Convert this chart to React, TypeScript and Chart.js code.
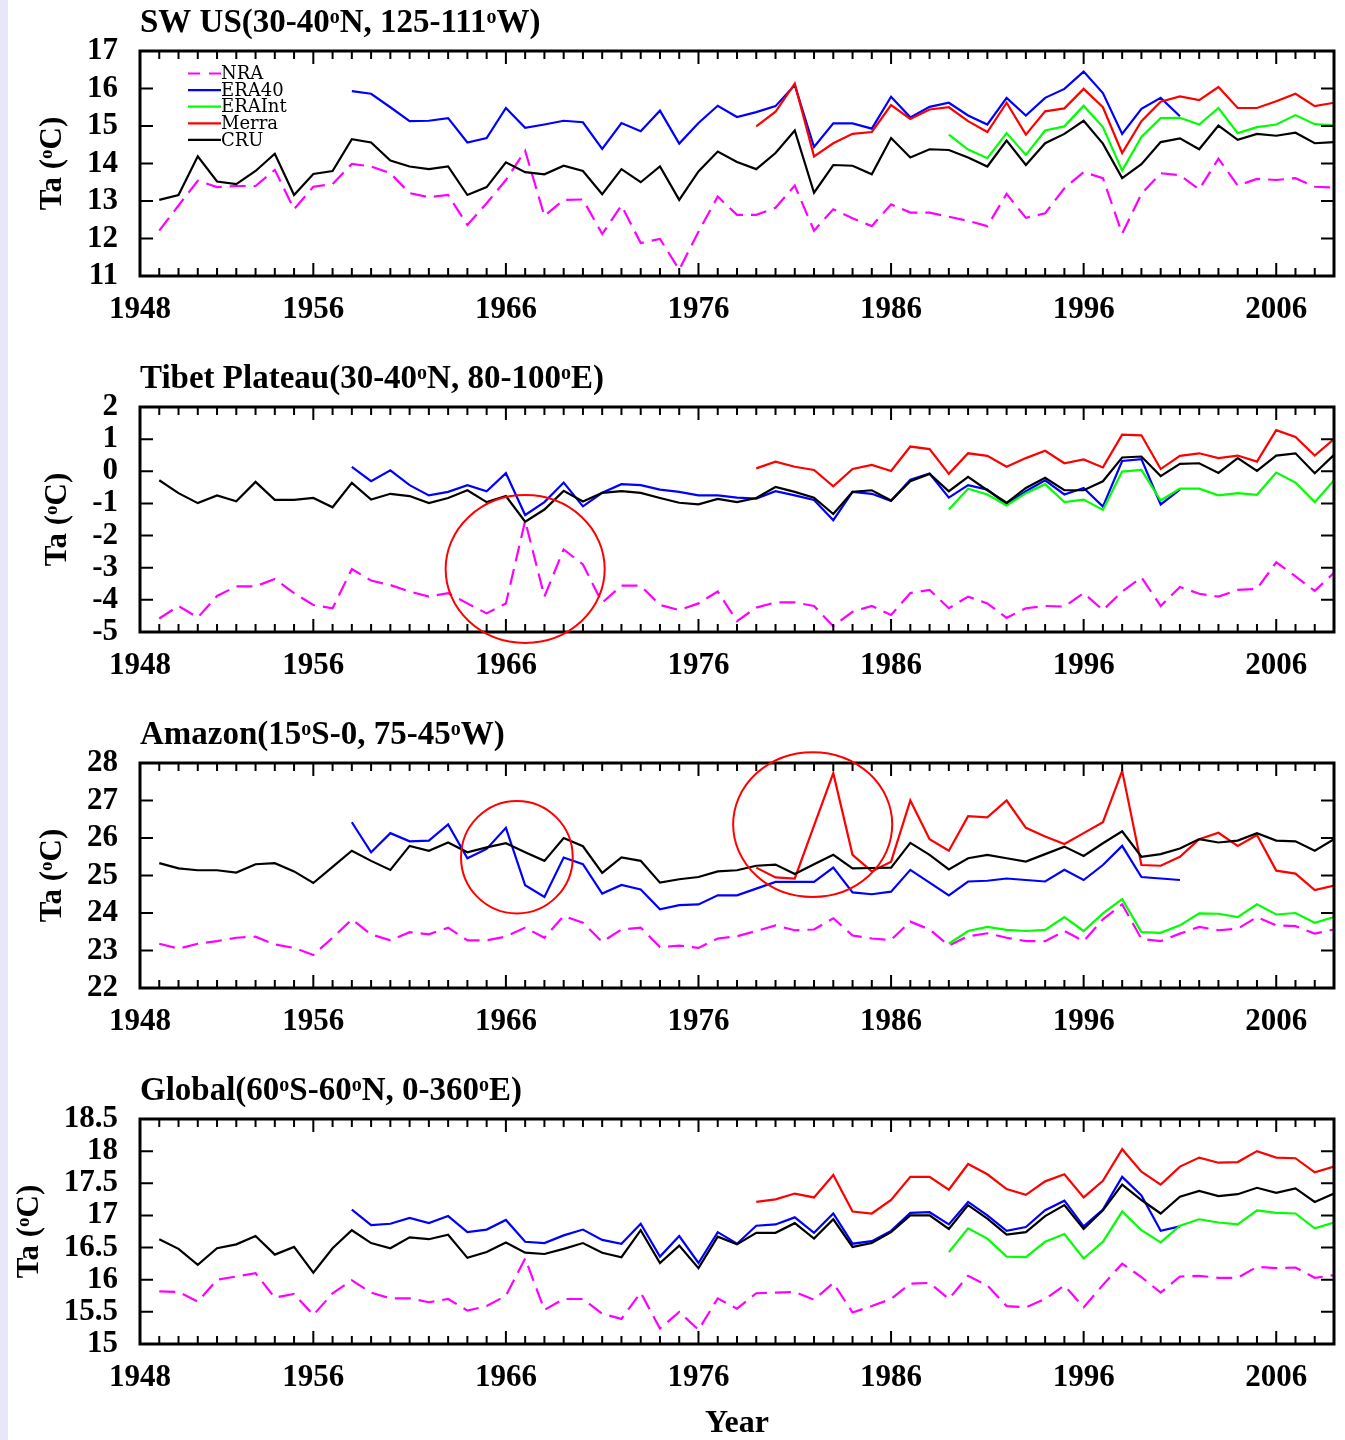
import React, { useEffect, useRef } from "react";
import { Chart, registerables } from "chart.js";

Chart.register(...registerables);

// ---------------- DATA ----------------
const years = [
  1948, 1949, 1950, 1951, 1952, 1953, 1954, 1955, 1956, 1957,
  1958, 1959, 1960, 1961, 1962, 1963, 1964, 1965, 1966, 1967,
  1968, 1969, 1970, 1971, 1972, 1973, 1974, 1975, 1976, 1977,
  1978, 1979, 1980, 1981, 1982, 1983, 1984, 1985, 1986, 1987,
  1988, 1989, 1990, 1991, 1992, 1993, 1994, 1995, 1996, 1997,
  1998, 1999, 2000, 2001, 2002, 2003, 2004, 2005, 2006, 2007,
  2008, 2009,
];

const xTickValues = [1947, 1956, 1966, 1976, 1986, 1996, 2006];
const xTickLabels = ["1948", "1956", "1966", "1976", "1986", "1996", "2006"];

const seriesNames = ["NRA", "ERA40", "ERAInt", "Merra", "CRU"];
const seriesStartYears = [1948, 1958, 1989, 1979, 1948];

// SW US
const swusNRA = [
  12.21, 12.88, 13.54, 13.37, 13.40, 13.40, 13.83, 12.78, 13.38, 13.45,
  13.99, 13.92, 13.74, 13.21, 13.10, 13.16, 12.36, 12.94, 13.56, 14.34,
  12.60, 13.03, 13.04, 12.12, 12.88, 11.88, 11.99, 11.17, 12.18, 13.12,
  12.63, 12.63, 12.82, 13.41, 12.21, 12.78, 12.54, 12.33, 12.91, 12.69,
  12.69, 12.58, 12.47, 12.33, 13.19, 12.55, 12.67, 13.34, 13.77, 13.61,
  12.13, 13.19, 13.74, 13.69, 13.31, 14.13, 13.41, 13.59, 13.56, 13.61,
  13.38, 13.36,
];
const swusERA40 = [
  15.93, 15.86, 15.50, 15.13, 15.14, 15.21, 14.56, 14.68, 15.48, 14.95,
  15.04, 15.14, 15.10, 14.39, 15.08, 14.86, 15.41, 14.53, 15.08, 15.54,
  15.24, 15.37, 15.53, 16.09, 14.44, 15.07, 15.07, 14.93, 15.78, 15.23,
  15.51, 15.62, 15.28, 15.04, 15.75, 15.28, 15.75, 15.99, 16.45, 15.88,
  14.79, 15.46, 15.75, 15.26,
];
const swusERAInt = [
  14.77, 14.37, 14.14, 14.81, 14.23, 14.88, 14.99, 15.54, 14.97, 13.81,
  14.71, 15.21, 15.22, 15.04, 15.48, 14.81, 14.97, 15.04, 15.29, 15.05,
  15.02,
];
const swusMerra = [
  14.99, 15.38, 16.13, 14.19, 14.54, 14.79, 14.84, 15.56, 15.19, 15.44,
  15.50, 15.13, 14.84, 15.62, 14.77, 15.39, 15.47, 15.99, 15.50, 14.28,
  15.13, 15.65, 15.79, 15.69, 16.04, 15.48, 15.48, 15.66, 15.86, 15.53,
  15.62,
];
const swusCRU = [
  13.03, 13.16, 14.19, 13.52, 13.45, 13.80, 14.26, 13.16, 13.72, 13.80,
  14.65, 14.56, 14.08, 13.92, 13.85, 13.92, 13.16, 13.37, 14.03, 13.77,
  13.71, 13.94, 13.80, 13.18, 13.85, 13.50, 13.92, 13.03, 13.79, 14.32,
  14.04, 13.85, 14.28, 14.88, 13.22, 13.96, 13.94, 13.71, 14.68, 14.16,
  14.38, 14.36, 14.16, 13.92, 14.61, 13.96, 14.54, 14.79, 15.14, 14.53,
  13.61, 13.98, 14.57, 14.67, 14.38, 15.01, 14.63, 14.79, 14.74, 14.82,
  14.54, 14.57,
];

// Tibet Plateau
const tibetNRA = [
  -4.58, -4.19, -4.55, -3.88, -3.58, -3.58, -3.35, -3.79, -4.16, -4.26,
  -3.04, -3.40, -3.54, -3.74, -3.90, -3.79, -4.11, -4.42, -4.11, -1.54,
  -3.90, -2.43, -2.90, -4.09, -3.56, -3.56, -4.16, -4.32, -4.11, -3.74,
  -4.66, -4.24, -4.08, -4.08, -4.19, -4.82, -4.37, -4.19, -4.47, -3.79,
  -3.69, -4.26, -3.90, -4.11, -4.56, -4.26, -4.19, -4.21, -3.79, -4.32,
  -3.74, -3.30, -4.19, -3.60, -3.81, -3.90, -3.69, -3.66, -2.83, -3.27,
  -3.72, -3.16,
];
const tibetERA40 = [
  0.14, -0.31, 0.03, -0.43, -0.75, -0.64, -0.43, -0.62, -0.06, -1.36,
  -0.96, -0.35, -1.09, -0.67, -0.40, -0.43, -0.57, -0.64, -0.75, -0.75,
  -0.82, -0.85, -0.62, -0.75, -0.89, -1.52, -0.64, -0.70, -0.92, -0.26,
  -0.07, -0.82, -0.43, -0.57, -1.03, -0.62, -0.28, -0.72, -0.52, -1.10,
  0.32, 0.38, -1.03, -0.57,
];
const tibetERAInt = [
  -1.19, -0.54, -0.72, -1.06, -0.68, -0.40, -0.96, -0.88, -1.20, -0.01,
  0.04, -0.91, -0.54, -0.54, -0.75, -0.68, -0.73, -0.04, -0.35, -0.96,
  -0.28,
];
const tibetMerra = [
  0.09, 0.30, 0.14, 0.04, -0.47, 0.07, 0.20, 0.01, 0.77, 0.69,
  -0.08, 0.56, 0.48, 0.14, 0.41, 0.64, 0.25, 0.37, 0.12, 1.14,
  1.12, 0.07, 0.48, 0.56, 0.41, 0.49, 0.30, 1.28, 1.07, 0.49,
  1.00,
];
const tibetCRU = [
  -0.28, -0.68, -0.99, -0.75, -0.93, -0.33, -0.89, -0.89, -0.83, -1.12,
  -0.36, -0.88, -0.70, -0.77, -0.99, -0.83, -0.59, -0.96, -0.77, -1.57,
  -1.19, -0.61, -0.94, -0.67, -0.62, -0.67, -0.83, -0.98, -1.03, -0.86,
  -0.96, -0.83, -0.49, -0.64, -0.82, -1.33, -0.64, -0.59, -0.91, -0.31,
  -0.08, -0.62, -0.17, -0.59, -0.98, -0.52, -0.20, -0.59, -0.59, -0.31,
  0.43, 0.46, -0.15, 0.23, 0.25, -0.05, 0.41, 0.01, 0.49, 0.56,
  -0.06, 0.51,
];

// Amazon
const amazonNRA = [
  23.18, 23.05, 23.18, 23.25, 23.34, 23.37, 23.16, 23.07, 22.88, 23.34,
  23.83, 23.43, 23.27, 23.49, 23.43, 23.61, 23.27, 23.27, 23.37, 23.61,
  23.34, 23.92, 23.74, 23.23, 23.56, 23.61, 23.09, 23.13, 23.07, 23.32,
  23.38, 23.52, 23.67, 23.54, 23.56, 23.86, 23.40, 23.32, 23.28, 23.77,
  23.56, 23.13, 23.38, 23.46, 23.34, 23.25, 23.25, 23.52, 23.25, 23.83,
  24.23, 23.31, 23.25, 23.45, 23.63, 23.54, 23.58, 23.89, 23.67, 23.65,
  23.45, 23.56,
];
const amazonERA40 = [
  26.42, 25.62, 26.13, 25.91, 25.93, 26.36, 25.46, 25.71, 26.27, 24.74,
  24.43, 25.48, 25.30, 24.52, 24.75, 24.63, 24.10, 24.21, 24.23, 24.47,
  24.47, 24.65, 24.83, 24.83, 24.83, 25.21, 24.55, 24.50, 24.57, 25.15,
  24.81, 24.47, 24.84, 24.86, 24.92, 24.88, 24.84, 25.15, 24.88, 25.28,
  25.79, 24.96, 24.92, 24.88,
];
const amazonERAInt = [
  23.18, 23.52, 23.63, 23.55, 23.52, 23.55, 23.89, 23.52, 23.99, 24.37,
  23.49, 23.47, 23.67, 23.99, 23.98, 23.89, 24.23, 23.96, 24.00, 23.74,
  23.89,
];
const amazonMerra = [
  25.21, 24.95, 24.92, 26.33, 27.73, 25.55, 25.11, 25.37, 27.00, 25.97,
  25.66, 26.58, 26.55, 27.00, 26.27, 26.04, 25.84, 26.13, 26.42, 27.79,
  25.28, 25.26, 25.50, 25.97, 26.14, 25.79, 26.08, 25.13, 25.05, 24.61,
  24.73,
];
const amazonCRU = [
  25.33, 25.19, 25.14, 25.14, 25.08, 25.30, 25.33, 25.11, 24.80, 25.23,
  25.66, 25.39, 25.15, 25.79, 25.66, 25.88, 25.62, 25.75, 25.86, 25.62,
  25.39, 26.00, 25.78, 25.07, 25.48, 25.39, 24.81, 24.90, 24.96, 25.11,
  25.14, 25.26, 25.29, 25.04, 25.30, 25.55, 25.19, 25.20, 25.21, 25.87,
  25.55, 25.16, 25.46, 25.55, 25.46, 25.37, 25.57, 25.77, 25.52, 25.86,
  26.18, 25.50, 25.57, 25.72, 25.97, 25.88, 25.93, 26.13, 25.93, 25.91,
  25.66, 25.97,
];

// Global
const globalNRA = [
  15.82, 15.81, 15.66, 16.00, 16.05, 16.10, 15.72, 15.78, 15.45, 15.79,
  15.99, 15.80, 15.71, 15.71, 15.65, 15.70, 15.52, 15.59, 15.75, 16.33,
  15.53, 15.70, 15.70, 15.47, 15.39, 15.80, 15.24, 15.50, 15.22, 15.71,
  15.55, 15.79, 15.80, 15.81, 15.69, 15.95, 15.49, 15.59, 15.70, 15.94,
  15.95, 15.70, 16.06, 15.91, 15.59, 15.57, 15.70, 15.91, 15.57, 15.92,
  16.25, 16.04, 15.80, 16.05, 16.06, 16.03, 16.03, 16.20, 16.18, 16.19,
  16.03, 16.07,
];
const globalERA40 = [
  17.09, 16.85, 16.87, 16.96, 16.88, 16.99, 16.74, 16.78, 16.93, 16.59,
  16.57, 16.69, 16.78, 16.62, 16.56, 16.87, 16.36, 16.68, 16.26, 16.74,
  16.56, 16.84, 16.86, 16.97, 16.73, 17.03, 16.56, 16.60, 16.76, 17.04,
  17.05, 16.86, 17.21, 17.00, 16.76, 16.82, 17.08, 17.23, 16.83, 17.09,
  17.60, 17.31, 16.76, 16.83,
];
const globalERAInt = [
  16.43, 16.80, 16.64, 16.36, 16.35, 16.59, 16.71, 16.33, 16.59, 17.06,
  16.77, 16.58, 16.84, 16.94, 16.89, 16.86, 17.08, 17.04, 17.03, 16.80,
  16.89,
];
const globalMerra = [
  17.21, 17.25, 17.34, 17.28, 17.63, 17.06, 17.03, 17.24, 17.60, 17.60,
  17.40, 17.80, 17.64, 17.41, 17.32, 17.53, 17.64, 17.28, 17.54, 18.03,
  17.68, 17.48, 17.76, 17.90, 17.82, 17.83, 18.00, 17.90, 17.89, 17.67,
  17.76,
];
const globalCRU = [
  16.63, 16.48, 16.23, 16.49, 16.55, 16.68, 16.39, 16.51, 16.11, 16.49,
  16.77, 16.57, 16.49, 16.66, 16.63, 16.70, 16.34, 16.43, 16.58, 16.42,
  16.40, 16.48, 16.57, 16.42, 16.35, 16.77, 16.26, 16.53, 16.18, 16.67,
  16.55, 16.73, 16.73, 16.88, 16.64, 16.94, 16.51, 16.57, 16.74, 17.00,
  17.00, 16.79, 17.16, 16.95, 16.70, 16.74, 16.99, 17.16, 16.79, 17.08,
  17.48, 17.24, 17.03, 17.29, 17.38, 17.30, 17.33, 17.43, 17.35, 17.42,
  17.21, 17.34,
];

// Highlight circles (in data units: year, value, half-widths)
const tibetCircles = [{ year: 1967, value: -3.04, yearRadius: 4.13, valueRadius: 2.3 }];
const amazonCircles = [
  { year: 1966.57, value: 25.49, yearRadius: 2.9, valueRadius: 1.5 },
  { year: 1981.93, value: 26.36, yearRadius: 4.13, valueRadius: 1.93 },
];

// ---------------- STYLE / LAYOUT ----------------
const SERIF = '"Liberation Serif", "Times New Roman", serif';
const seriesStyles = [
  { color: "#ff00ff", dash: [16, 8], order: 4 },
  { color: "#0000ff", dash: [], order: 3 },
  { color: "#00ff00", dash: [], order: 2 },
  { color: "#ff0000", dash: [], order: 1 },
  { color: "#000000", dash: [], order: 0 },
];

const PANEL_STEP = 356;
const PLOT_TOP = 51;
const PLOT_H = 225;
const CANVAS_W = 1345;
const AXIS_W = 140;
const RIGHT_PAD = 11;

type CircleSpec = { year: number; value: number; yearRadius: number; valueRadius: number };
type PanelSpec = {
  title: string;
  yMin: number;
  yMax: number;
  yStep: number;
  series: number[][];
  circles: CircleSpec[];
  legend: boolean;
  xTitle: boolean;
};

const panels: PanelSpec[] = [
  {
    title: "SW US(30-40^oN, 125-111^oW)",
    yMin: 11, yMax: 17, yStep: 1,
    series: [swusNRA, swusERA40, swusERAInt, swusMerra, swusCRU],
    circles: [], legend: true, xTitle: false,
  },
  {
    title: "Tibet Plateau(30-40^oN, 80-100^oE)",
    yMin: -5, yMax: 2, yStep: 1,
    series: [tibetNRA, tibetERA40, tibetERAInt, tibetMerra, tibetCRU],
    circles: tibetCircles, legend: false, xTitle: false,
  },
  {
    title: "Amazon(15^oS-0, 75-45^oW)",
    yMin: 22, yMax: 28, yStep: 1,
    series: [amazonNRA, amazonERA40, amazonERAInt, amazonMerra, amazonCRU],
    circles: amazonCircles, legend: false, xTitle: false,
  },
  {
    title: "Global(60^oS-60^oN, 0-360^oE)",
    yMin: 15, yMax: 18.5, yStep: 0.5,
    series: [globalNRA, globalERA40, globalERAInt, globalMerra, globalCRU],
    circles: [], legend: false, xTitle: true,
  },
];

// ---------------- DRAW HELPERS ----------------
function parseRich(s: string) {
  const parts = s.split("^");
  const segs: { t: string; sup: boolean }[] = [];
  parts.forEach((p, i) => {
    if (i === 0) {
      if (p) segs.push({ t: p, sup: false });
    } else {
      segs.push({ t: p.charAt(0), sup: true });
      if (p.length > 1) segs.push({ t: p.slice(1), sup: false });
    }
  });
  return segs;
}

function drawRich(ctx: CanvasRenderingContext2D, text: string, x: number, y: number, size: number, align: "left" | "center") {
  const segs = parseRich(text);
  const mainFont = `bold ${size}px ${SERIF}`;
  const supFont = `bold ${Math.round(size * 0.62)}px ${SERIF}`;
  const widths = segs.map((s) => {
    ctx.font = s.sup ? supFont : mainFont;
    return ctx.measureText(s.t).width;
  });
  const total = widths.reduce((a, b) => a + b, 0);
  let cx = align === "center" ? x - total / 2 : x;
  ctx.textAlign = "left";
  ctx.textBaseline = "alphabetic";
  segs.forEach((s, i) => {
    ctx.font = s.sup ? supFont : mainFont;
    ctx.fillText(s.t, cx, s.sup ? y - size * 0.28 : y);
    cx += widths[i];
  });
}

const decorPlugin = {
  id: "panelDecor",
  afterDatasetsDraw(chart: any, _args: any, opts: any) {
    const { ctx, chartArea: a, scales } = chart;
    const xs = scales.x;
    const ys = scales.y;
    ctx.save();
    ctx.fillStyle = "#000";
    ctx.strokeStyle = "#000";

    // ticks (inward)
    ctx.lineWidth = 2;
    ctx.setLineDash([]);
    ctx.beginPath();
    for (const yr of years) {
      const px = xs.getPixelForValue(yr);
      if (px >= a.right - 1 || px <= a.left + 1) continue;
      const len = xTickValues.includes(yr) ? 13 : 8;
      ctx.moveTo(px, a.bottom);
      ctx.lineTo(px, a.bottom - len);
      ctx.moveTo(px, a.top);
      ctx.lineTo(px, a.top + len);
    }
    for (const t of ys.ticks) {
      const py = ys.getPixelForValue(t.value);
      if (py <= a.top + 1 || py >= a.bottom - 1) continue;
      ctx.moveTo(a.left, py);
      ctx.lineTo(a.left + 13, py);
      ctx.moveTo(a.right, py);
      ctx.lineTo(a.right - 13, py);
    }
    ctx.stroke();

    // frame
    ctx.lineWidth = 3;
    ctx.strokeRect(a.left, a.top, a.right - a.left, a.bottom - a.top);

    // circles
    ctx.strokeStyle = "#ff0000";
    ctx.lineWidth = 2;
    for (const c of opts.circles as CircleSpec[]) {
      const cx = xs.getPixelForValue(c.year);
      const cy = ys.getPixelForValue(c.value);
      const rx = Math.abs(xs.getPixelForValue(c.year + c.yearRadius) - cx);
      const ry = Math.abs(ys.getPixelForValue(c.value + c.valueRadius) - cy);
      ctx.beginPath();
      ctx.ellipse(cx, cy, rx, ry, 0, 0, Math.PI * 2);
      ctx.stroke();
    }

    // legend
    if (opts.legend) {
      const dsets = chart.data.datasets;
      seriesNames.forEach((name, i) => {
        const ds = dsets.find((d: any) => d.label === name);
        const y = a.top + 22.5 + i * 16.6;
        ctx.strokeStyle = ds.borderColor;
        ctx.lineWidth = 2.2;
        ctx.setLineDash(ds.borderDash && ds.borderDash.length ? [12, 9] : []);
        ctx.beginPath();
        ctx.moveTo(a.left + 48, y);
        ctx.lineTo(a.left + 81, y);
        ctx.stroke();
        ctx.setLineDash([]);
        ctx.fillStyle = "#000";
        ctx.font = `18px "DejaVu Serif", serif`;
        ctx.textAlign = "left";
        ctx.textBaseline = "middle";
        ctx.fillText(name, a.left + 81, y + 1);
      });
    }

    // title
    ctx.fillStyle = "#000";
    drawRich(ctx, opts.title, a.left, a.top - 19, 33, "left");

    // y title, placed left of the widest tick label
    ctx.font = `bold 31px ${SERIF}`;
    let maxW = 0;
    for (const t of ys.ticks) maxW = Math.max(maxW, ctx.measureText(String(t.label)).width);
    const baseX = a.left - 22 - maxW - 26;
    ctx.save();
    ctx.translate(baseX, (a.top + a.bottom) / 2);
    ctx.rotate(-Math.PI / 2);
    drawRich(ctx, "Ta (^oC)", 0, 0, 31, "center");
    ctx.restore();

    // x title
    if (opts.xTitle) {
      drawRich(ctx, "Year", (a.left + a.right) / 2, a.bottom + 88, 32, "center");
    }
    ctx.restore();
  },
};

function buildDatasets(p: PanelSpec) {
  return p.series.map((vals, si) => {
    const start = years.indexOf(seriesStartYears[si]);
    return {
      label: seriesNames[si],
      data: vals.map((v, i) => ({ x: years[start + i], y: v })),
      borderColor: seriesStyles[si].color,
      borderDash: seriesStyles[si].dash,
      borderWidth: 2.2,
      pointRadius: 0,
      fill: false,
      tension: 0,
      order: seriesStyles[si].order,
    };
  });
}

function Panel({ spec, index }: { spec: PanelSpec; index: number }) {
  const ref = useRef<HTMLCanvasElement>(null);
  const height = index < panels.length - 1 ? PANEL_STEP : 1440 - PANEL_STEP * index;

  useEffect(() => {
    const canvas = ref.current;
    if (!canvas) return;
    const tickFont = { family: SERIF, size: 31, weight: "bold" as const };
    const chart = new Chart(canvas, {
      type: "line",
      data: { datasets: buildDatasets(spec) as any },
      options: {
        animation: false,
        responsive: false,
        maintainAspectRatio: false,
        devicePixelRatio: 1,
        events: [],
        layout: { autoPadding: false, padding: { top: PLOT_TOP, right: RIGHT_PAD, left: 0, bottom: 0 } },
        plugins: {
          legend: { display: false },
          tooltip: { enabled: false },
          title: { display: false },
          panelDecor: {
            title: spec.title,
            circles: spec.circles,
            legend: spec.legend,
            xTitle: spec.xTitle,
          },
        } as any,
        scales: {
          x: {
            type: "linear",
            min: 1947,
            max: 2009,
            grid: { display: false, drawTicks: false },
            border: { display: false },
            afterBuildTicks: (s: any) => {
              s.ticks = xTickValues.map((v) => ({ value: v }));
            },
            afterFit: (s: any) => {
              s.height = height - PLOT_TOP - PLOT_H;
            },
            ticks: {
              autoSkip: false,
              maxRotation: 0,
              padding: 15,
              color: "#000",
              font: tickFont,
              callback: (_v: any, i: number) => xTickLabels[i],
            },
          },
          y: {
            type: "linear",
            min: spec.yMin,
            max: spec.yMax,
            grid: { display: false, drawTicks: false },
            border: { display: false },
            afterFit: (s: any) => {
              s.width = AXIS_W;
            },
            ticks: {
              autoSkip: false,
              stepSize: spec.yStep,
              padding: 22,
              color: "#000",
              font: tickFont,
              callback: (v: any) => String(Math.round(Number(v) * 10) / 10),
            },
          },
        },
      },
      plugins: [decorPlugin],
    });
    return () => chart.destroy();
  }, []);

  return (
    <canvas
      ref={ref}
      width={CANVAS_W}
      height={height}
      style={{ position: "absolute", left: 0, top: PANEL_STEP * index, width: CANVAS_W, height }}
    />
  );
}

export default function App() {
  return (
    <div style={{ position: "absolute", left: 0, top: 0, width: 1345, height: 1440, background: "#fff", overflow: "hidden" }}>
      <div style={{ position: "absolute", left: 0, top: 0, width: 8, height: 1440, background: "#e7e7f9" }} />
      {panels.map((p, i) => (
        <Panel key={i} spec={p} index={i} />
      ))}
    </div>
  );
}
